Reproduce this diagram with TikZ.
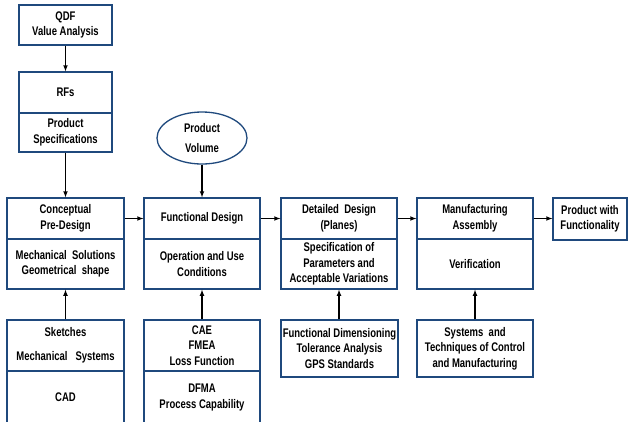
\documentclass[tikz,border=0pt]{standalone}
\usepackage{fontspec}
\setmainfont{Liberation Sans}[FakeStretch=0.76]
\usetikzlibrary{shapes.geometric}
\definecolor{frame}{RGB}{31,73,125}

\begin{document}
\begin{tikzpicture}[>=latex,x=1pt,y=-1pt,
    box/.style={draw=frame,line width=1.3pt,align=center,inner sep=0pt,
        font=\fontsize{12.5}{15.5}\selectfont\bfseries},
    flow/.style={->,line width=1.1pt}]
    \clip (0,0) rectangle (628,421);
    % left column
    \node[box,minimum width=93,minimum height=40] (qdf) at (65.5,25) {QDF\\Value Analysis};
    \node[box,minimum width=93,minimum height=41] (rfs) at (65.5,92.5) {RFs};
    \node[box,minimum width=93,minimum height=39] (spec) at (65.5,132.5) {Product\\Specifications};
    \node[box,minimum width=117,minimum height=41] (concept) at (65.5,218.5) {Conceptual\\Pre-Design};
    \node[box,minimum width=117,minimum height=50] (mech) at (65.5,264) {Mechanical\ \ Solutions\\Geometrical\ \ shape};
    \node[box,minimum width=117,minimum height=51] (sketch) at (65.5,345.5) {Sketches\\[8pt]Mechanical\ \ \ Systems};
    \node[box,minimum width=117,minimum height=53] (cad) at (65.5,397.5) {CAD};
    % second column
    \node[box,ellipse,minimum width=90,minimum height=52] (vol) at (202,138) {Product\\[4pt]Volume};
    \node[box,minimum width=116,minimum height=41] (func) at (202,218.5) {Functional Design};
    \node[box,minimum width=116,minimum height=50] (oper) at (202,264) {Operation and Use\\Conditions};
    \node[box,minimum width=116,minimum height=51] (cae) at (202,345.5) {CAE\\FMEA\\Loss Function};
    \node[box,minimum width=116,minimum height=53] (dfma) at (202,397.5) {DFMA\\Process Capability};
    % third column
    \node[box,minimum width=116,minimum height=41] (detail) at (339,218.5) {Detailed\ \ Design\\(Planes)};
    \node[box,minimum width=116,minimum height=50] (param) at (339,264) {Specification of\\Parameters and\\Acceptable Variations};
    \node[box,minimum width=117,minimum height=57] (fdim) at (339.5,348.5) {Functional Dimensioning\\Tolerance Analysis\\GPS Standards};
    % fourth column
    \node[box,minimum width=116,minimum height=41] (manuf) at (475,218.5) {Manufacturing\\Assembly};
    \node[box,minimum width=116,minimum height=50] (verif) at (475,264) {Verification};
    \node[box,minimum width=116,minimum height=57] (sys) at (475,348.5) {Systems\ \ and\\Techniques of Control\\and Manufacturing};
    \node[box,minimum width=74,minimum height=42] (prod) at (590,219) {Product with\\Functionality};
    % arrows
    \draw[flow] (qdf)--(rfs);
    \draw[flow] (spec)--(concept);
    \draw[flow] (vol)--(func);
    \draw[flow] (sketch)--(mech);
    \draw[flow] (cae)--(oper);
    \draw[flow] (fdim.north-|param.south)--(param.south);
    \draw[flow] (sys)--(verif);
    \draw[flow] (concept)--(func);
    \draw[flow] (func)--(detail);
    \draw[flow] (detail)--(manuf);
    \draw[flow] (manuf.east)--(manuf.east-|prod.west);
\end{tikzpicture}
\end{document}
